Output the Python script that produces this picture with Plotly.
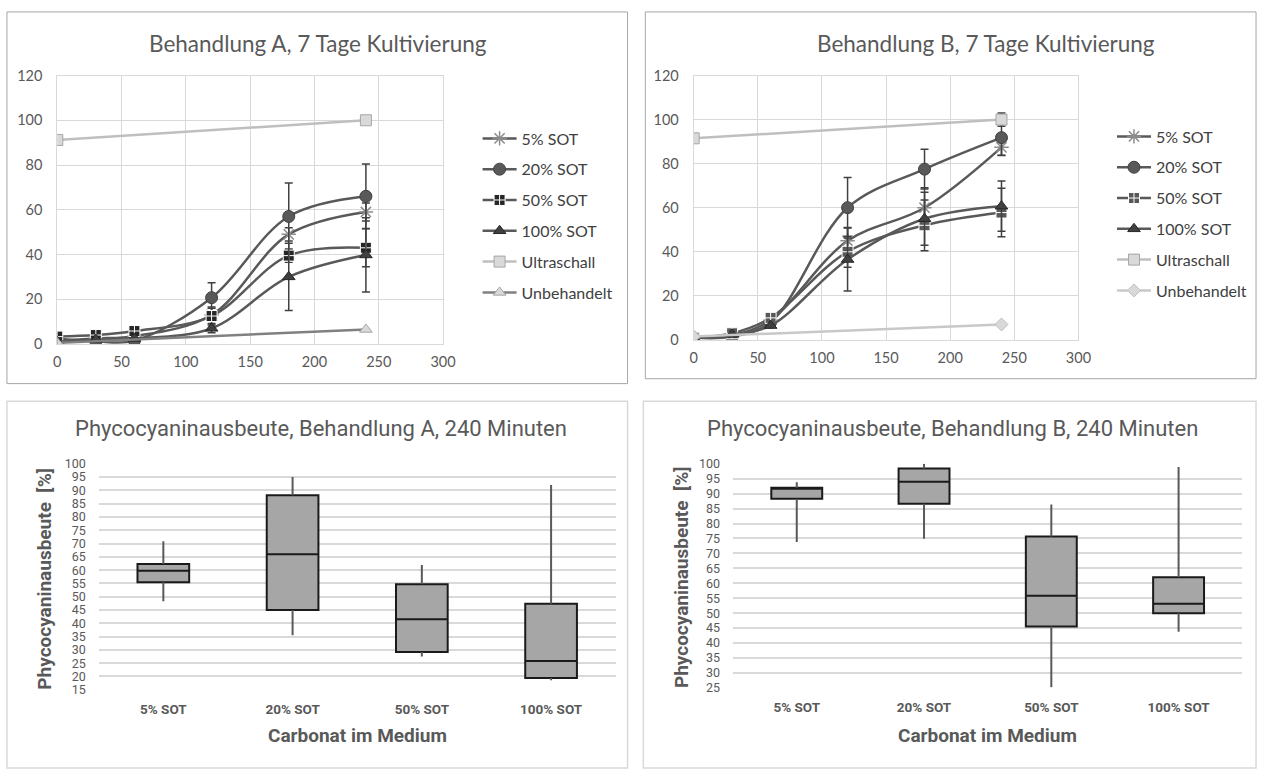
import plotly.graph_objects as go

W, H = 1272, 776


def px(x):
    return x / W


def py(y):
    return 1 - y / H


# ---------------- data ----------------
minutes = [0, 30, 60, 120, 180, 240]
minutes_ctrl = [0, 240]
series_names = ["5% SOT", "20% SOT", "50% SOT", "100% SOT"]

# Behandlung A (7 Tage Kultivierung)
a_5 = [1.5, 2.5, 3.5, 13, 49, 59]
a_20 = [2.5, 1.2, 1.5, 20.7, 57, 66]
a_50 = [3.3, 4.0, 5.8, 12.5, 39.5, 43]
a_100 = [1, 2, 2.5, 7, 30, 39.8]
a_5_err = [None, None, None, 3, 3, 4]
a_20_err = [None, None, None, 6.7, 15, 14.4]
a_50_err = [None, None, None, 4, 3, 8.5]
a_100_err = [None, None, None, 2, 15, 16.6]
a_ultraschall = [91.2, 100]
a_unbehandelt = [0.5, 6.5]

# Behandlung B (7 Tage Kultivierung)
b_5 = [1, 2, 9, 45, 60, 87.4]
b_20 = [1, 1.5, 8, 60, 77.5, 91.8]
b_50 = [1, 3, 10, 40, 52, 57.8]
b_100 = [1, 2.5, 6.5, 36.5, 55, 60.7]
b_5_err = [None, None, None, 6, 9, 3.7]
b_20_err = [None, None, None, 13.7, 9, 8]
b_50_err = [None, None, None, 7, 11.5, 11]
b_100_err = [None, None, None, 14.3, 12, 11.4]
b_ultraschall = [91.5, 100]
b_ultraschall_err = [None, 3]
b_unbehandelt = [1.5, 7]

# Box plots, 240 Minuten
box_categories = ["5% SOT", "20% SOT", "50% SOT", "100% SOT"]
boxA_min = [48.3, 35.5, 27.5, 18.6]
boxA_q1 = [55.4, 45.0, 29.2, 19.4]
boxA_med = [59.8, 66.0, 41.5, 25.8]
boxA_q3 = [62.3, 88.2, 54.7, 47.4]
boxA_max = [70.9, 95.0, 61.9, 92.0]

boxB_min = [73.8, 74.9, 25.2, 43.8]
boxB_q1 = [88.3, 86.6, 45.5, 50.0]
boxB_med = [91.8, 94.0, 55.8, 53.1]
boxB_q3 = [92.0, 98.4, 75.7, 62.0]
boxB_max = [93.8, 100.0, 86.4, 98.9]

# ---------------- styles ----------------
DARK = "#595959"
TXT = "#595959"
GRID = "#d9d9d9"
FONT_TOP = "Lato, Open Sans, sans-serif"
FONT_BOT = "Roboto, Liberation Sans, sans-serif"

marker_styles = {
    "5% SOT": dict(symbol="asterisk-open", size=12, color="#8c8c8c",
                   line=dict(color="#8c8c8c", width=1.5)),
    "20% SOT": dict(symbol="circle", size=12, color="#595959",
                    line=dict(color="#404040", width=1)),
    "50% SOT A": dict(symbol="square-cross", size=11, color="#262626",
                      line=dict(color="#ffffff", width=1)),
    "50% SOT B": dict(symbol="square-cross", size=11, color="#595959",
                      line=dict(color="#ffffff", width=1)),
    "100% SOT": dict(symbol="triangle-up", size=11, color="#404040",
                     line=dict(color="#262626", width=1)),
    "Ultraschall": dict(symbol="square", size=11, color="#d9d9d9",
                        line=dict(color="#a6a6a6", width=1)),
    "Unbehandelt A": dict(symbol="triangle-up", size=11, color="#d9d9d9",
                          line=dict(color="#a6a6a6", width=1)),
    "Unbehandelt B": dict(symbol="diamond", size=10, color="#d9d9d9",
                          line=dict(color="#bfbfbf", width=1)),
}

fig = go.Figure()


def add_line_chart(xa, ya, legend, data, errs, us, us_err, unb, variant):
    keys = ["5% SOT", "20% SOT", "50% SOT " + variant, "100% SOT"]
    for i, (name, vals, err) in enumerate(zip(series_names, data, errs)):
        fig.add_trace(go.Scatter(
            x=minutes, y=vals, name=name, mode="lines+markers",
            line=dict(color=DARK, width=2.5, shape="spline", smoothing=1.0),
            marker=marker_styles[keys[i]],
            error_y=dict(type="data", array=err, symmetric=True,
                         color="#404040", thickness=1.5, width=4),
            xaxis=xa, yaxis=ya, legend=legend, legendgroup=legend + name,
        ))
    fig.add_trace(go.Scatter(
        x=minutes_ctrl, y=us, name="Ultraschall", mode="lines+markers",
        line=dict(color="#bfbfbf", width=2.5),
        marker=marker_styles["Ultraschall"],
        error_y=dict(type="data", array=us_err, color="#404040",
                     thickness=1.5, width=4, visible=us_err is not None),
        xaxis=xa, yaxis=ya, legend=legend, legendgroup=legend + "us",
    ))
    unb_line = "#808080" if variant == "A" else "#c8c8c8"
    fig.add_trace(go.Scatter(
        x=minutes_ctrl, y=unb, name="Unbehandelt", mode="lines+markers",
        line=dict(color=unb_line, width=2.5),
        marker=marker_styles["Unbehandelt " + variant],
        xaxis=xa, yaxis=ya, legend=legend, legendgroup=legend + "unb",
    ))


add_line_chart("x", "y", "legend", [a_5, a_20, a_50, a_100],
               [a_5_err, a_20_err, a_50_err, a_100_err],
               a_ultraschall, None, a_unbehandelt, "A")
add_line_chart("x2", "y2", "legend2", [b_5, b_20, b_50, b_100],
               [b_5_err, b_20_err, b_50_err, b_100_err],
               b_ultraschall, b_ultraschall_err, b_unbehandelt, "B")


def add_box_chart(xa, ya, mn, q1, med, q3, mx):
    for c, lo, a, b, hi in zip(box_categories, mn, q1, q3, mx):
        fig.add_trace(go.Scatter(x=[c, c], y=[b, hi], mode="lines",
                                 line=dict(color=DARK, width=2),
                                 showlegend=False, hoverinfo="skip",
                                 xaxis=xa, yaxis=ya))
        fig.add_trace(go.Scatter(x=[c, c], y=[lo, a], mode="lines",
                                 line=dict(color=DARK, width=2),
                                 showlegend=False, hoverinfo="skip",
                                 xaxis=xa, yaxis=ya))
    fig.add_trace(go.Box(
        x=box_categories, q1=q1, median=med, q3=q3,
        lowerfence=q1, upperfence=q3, width=0.4,
        fillcolor="#a6a6a6", line=dict(color="#1a1a1a", width=2),
        whiskerwidth=0, boxpoints=False, showlegend=False,
        xaxis=xa, yaxis=ya,
    ))


add_box_chart("x3", "y3", boxA_min, boxA_q1, boxA_med, boxA_q3, boxA_max)
add_box_chart("x4", "y4", boxB_min, boxB_q1, boxB_med, boxB_q3, boxB_max)

# ---------------- axes ----------------
top_x = dict(range=[0, 300], dtick=50, tick0=0, showgrid=True, gridcolor=GRID,
             gridwidth=1, zeroline=False, showline=True, linecolor=GRID,
             mirror=True, ticks="", ticklabelstandoff=5,
             tickfont=dict(family=FONT_TOP, size=14.5, color=TXT))
top_y = dict(range=[0, 120], dtick=20, tick0=0, showgrid=True, gridcolor=GRID,
             gridwidth=1, zeroline=False, showline=True, linecolor=GRID,
             mirror=True, ticks="", ticklabelstandoff=11,
             tickfont=dict(family=FONT_TOP, size=14.5, color=TXT))

fig.update_layout(
    xaxis=dict(top_x, domain=[px(54), px(445)], anchor="y"),
    yaxis=dict(top_y, domain=[py(342.5), py(68)], anchor="x"),
    xaxis2=dict(top_x, domain=[px(699), px(1089)], anchor="y2"),
    yaxis2=dict(top_y, domain=[py(338.3), py(68)], anchor="x2"),
)

bot_x = dict(type="category", range=[-0.5, 3.5], showgrid=False,
             zeroline=False, showline=False, ticks="", ticklabelstandoff=10,
             tickfont=dict(family=FONT_BOT, size=13.5, color=TXT, weight=700))
bot_y = dict(dtick=5, showgrid=True, gridcolor=GRID, gridwidth=1.5,
             zeroline=False, showline=False, ticks="", ticklabelstandoff=12,
             tickfont=dict(family=FONT_BOT, size=12.5, color=TXT))

fig.update_layout(
    xaxis3=dict(bot_x, domain=[px(96), px(620)], anchor="y3"),
    yaxis3=dict(bot_y, range=[15, 100], tick0=15, domain=[py(696), py(465)],
                anchor="x3"),
    xaxis4=dict(bot_x, domain=[px(739), px(1255)], anchor="y4"),
    yaxis4=dict(bot_y, range=[25, 100], tick0=25, domain=[py(694), py(465)],
                anchor="x4"),
)

# ---------------- legends ----------------
leg = dict(xanchor="left", yanchor="top", bgcolor="rgba(0,0,0,0)",
           font=dict(family=FONT_TOP, size=16, color="#404040"),
           tracegroupgap=7, itemwidth=34)
fig.update_layout(
    legend=dict(leg, x=px(480), y=py(115)),
    legend2=dict(leg, x=px(1123), y=py(113)),
)

# ---------------- titles / annotations ----------------
ann = []
title_font_top = dict(family=FONT_TOP, size=22.5, color=TXT)
title_font_bot = dict(family=FONT_BOT, size=22, color=TXT)
ann.append(dict(text="Behandlung A, 7 Tage Kultivierung", x=px(318), y=py(35),
                font=title_font_top))
ann.append(dict(text="Behandlung B, 7 Tage Kultivierung", x=px(995), y=py(35),
                font=title_font_top))
ann.append(dict(text="Phycocyaninausbeute, Behandlung A, 240 Minuten",
                x=px(321), y=py(429), font=title_font_bot))
ann.append(dict(text="Phycocyaninausbeute, Behandlung B, 240 Minuten",
                x=px(961), y=py(429), font=title_font_bot))
axis_title_font = dict(family=FONT_BOT, size=19, color=TXT, weight=700)
ann.append(dict(text="Carbonat im Medium", x=px(358), y=py(743),
                font=axis_title_font))
ann.append(dict(text="Carbonat im Medium", x=px(997), y=py(743),
                font=axis_title_font))
ann.append(dict(text="Phycocyaninausbeute  [%]", x=px(41), y=py(582),
                textangle=-90, font=axis_title_font))
ann.append(dict(text="Phycocyaninausbeute  [%]", x=px(686), y=py(581),
                textangle=-90, font=axis_title_font))
for a in ann:
    a.update(xref="paper", yref="paper", showarrow=False,
             xanchor="center", yanchor="middle")

shapes = [
    dict(type="rect", x0=px(3), x1=px(632), y0=py(383), y1=py(3),
         line=dict(color="#a6a6a6", width=1)),
    dict(type="rect", x0=px(650), x1=px(1269), y0=py(378), y1=py(3),
         line=dict(color="#a6a6a6", width=1)),
    dict(type="rect", x0=px(3), x1=px(632), y0=py(776), y1=py(401),
         line=dict(color="#d9d9d9", width=1.5)),
    dict(type="rect", x0=px(648), x1=px(1269), y0=py(776), y1=py(401),
         line=dict(color="#d9d9d9", width=1.5)),
]
for s in shapes:
    s.update(xref="paper", yref="paper", layer="below")

fig.update_layout(
    width=W, height=H, margin=dict(l=0, r=0, t=0, b=0),
    paper_bgcolor="white", plot_bgcolor="white",
    annotations=ann, shapes=shapes, showlegend=True,
    font=dict(family=FONT_TOP, color=TXT),
)

fig.write_html("out.html")
